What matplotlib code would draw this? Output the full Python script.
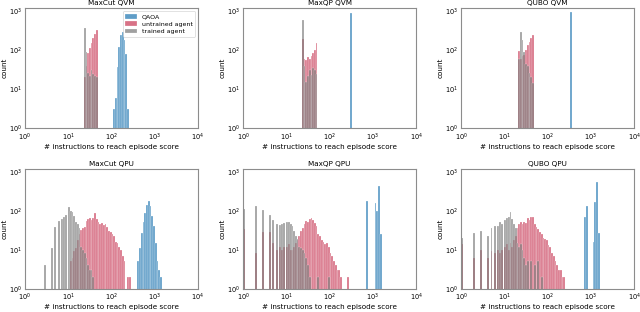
import numpy as np
import matplotlib
matplotlib.use("Agg")
import matplotlib.pyplot as plt

titles = ["MaxCut QVM", "MaxQP QVM", "QUBO QVM", "MaxCut QPU", "MaxQP QPU", "QUBO QPU"]
series_labels = ["QAOA", "untrained agent", "trained agent"]
xlabel = "# instructions to reach episode score"
ylabel = "count"

# ---- MaxCut QVM ----
maxcut_qvm_qaoa_x = [115, 126, 138, 151, 166, 182, 200, 219, 240]
maxcut_qvm_qaoa_n = [3, 6, 36, 120, 240, 295, 180, 80, 3]
maxcut_qvm_untr_x = [24, 26, 29, 32, 35, 38, 42, 46]
maxcut_qvm_untr_n = [20, 40, 83, 115, 150, 200, 260, 325]
maxcut_qvm_tr_x = [24, 26, 29, 32, 35, 38, 42, 46]
maxcut_qvm_tr_n = [365, 89, 26, 22, 30, 24, 22, 20]

# ---- MaxQP QVM ----
maxqp_qvm_qaoa_x = [305]
maxqp_qvm_qaoa_n = [900]
maxqp_qvm_untr_x = [24, 26, 29, 32, 35, 38, 42, 46, 50]
maxqp_qvm_untr_n = [195, 60, 55, 65, 60, 70, 85, 100, 155]
maxqp_qvm_tr_x = [24, 26, 29, 32, 35, 38, 42, 46, 50]
maxqp_qvm_tr_n = [580, 40, 15, 22, 30, 23, 35, 30, 25]

# ---- QUBO QVM ----
qubo_qvm_qaoa_x = [350]
qubo_qvm_qaoa_n = [930]
qubo_qvm_untr_x = [22, 24, 26, 29, 32, 35, 38, 42, 46]
qubo_qvm_untr_n = [95, 60, 70, 75, 100, 135, 165, 210, 240]
qubo_qvm_tr_x = [22, 24, 26, 29, 32, 35, 38, 42, 46]
qubo_qvm_tr_n = [60, 300, 180, 90, 45, 40, 26, 20, 14]

# ---- MaxCut QPU ----
maxcut_qpu_qaoa_x = [417, 457, 501, 550, 603, 661, 724, 794, 871, 955, 1047, 1148, 1259, 1380]
maxcut_qpu_qaoa_n = [5, 11, 27, 50, 90, 140, 175, 130, 75, 40, 15, 5, 3, 2]
maxcut_qpu_untr_x = [11, 13, 14, 15, 17, 18, 20, 22, 24, 26, 29, 32, 35, 38, 42, 46, 50, 55,
                     60, 66, 72, 79, 87, 95, 105, 115, 126, 138, 151, 166, 182, 200, 240, 263]
maxcut_qpu_untr_n = [5, 6, 9, 11, 18, 25, 32, 35, 38, 55, 62, 65, 58, 66, 90, 62, 50, 45,
                     48, 42, 45, 38, 30, 28, 26, 22, 16, 15, 12, 10, 7, 5, 2, 2]
maxcut_qpu_tr_x = [3, 4, 5, 6, 7, 8, 9, 10.4, 11, 13, 14, 15, 17, 18, 20, 22, 24, 26, 29, 32, 35, 38]
maxcut_qpu_tr_n = [4, 11, 38, 55, 60, 70, 80, 125, 100, 95, 75, 50, 45, 35, 12, 10, 8, 6, 4, 3, 3, 2]

# ---- MaxQP QPU ----
maxqp_qpu_qaoa_x = [724, 1148, 1259, 1380, 1514]
maxqp_qpu_qaoa_n = [183, 155, 100, 445, 25]
maxqp_qpu_untr_x = [1, 2, 3, 4, 5, 6, 7, 8, 9, 10.4, 11, 13, 14, 15, 17, 18, 20, 22, 24, 26, 29,
                    32, 35, 38, 42, 46, 50, 55, 60, 66, 72, 79, 87, 95, 105, 115, 126, 138, 151,
                    166, 182, 263]
maxqp_qpu_untr_n = [33, 8, 29, 28, 15, 10, 12, 10, 12, 12, 14, 10, 10, 12, 15, 18, 22, 30, 35, 45, 55,
                    52, 60, 65, 58, 48, 40, 25, 22, 18, 16, 14, 15, 12, 8, 7, 5, 4, 3,
                    3, 2, 2]
maxqp_qpu_tr_x = [1, 2, 3, 4, 5, 6, 7, 8, 9, 10.4, 11, 13, 14, 15, 17, 18, 20, 22, 24, 26, 29, 32,
                  35, 55, 95]
maxqp_qpu_tr_n = [112, 135, 103, 80, 57, 45, 43, 45, 48, 50, 52, 45, 40, 31, 22, 19, 12, 11, 10, 8, 6, 4,
                  2, 2, 2]

# ---- QUBO QPU ----
qubo_qpu_qaoa_x = [724, 794, 1148, 1259, 1380, 1514]
qubo_qpu_qaoa_n = [68, 130, 16, 165, 550, 27]
qubo_qpu_untr_x = [1, 2, 3, 4, 5, 6, 7, 8, 9, 10.4, 11, 13, 14, 15, 17, 18, 20, 22, 24, 26, 29, 32,
                   35, 38, 42, 46, 50, 55, 60, 66, 72, 79, 87, 95, 105, 115, 126, 138, 151, 166,
                   182, 200, 219, 240]
qubo_qpu_untr_n = [14, 6, 10, 6, 9, 8, 10, 8, 10, 12, 14, 10, 15, 12, 18, 22, 36, 47, 50, 45, 52, 48,
                   65, 58, 70, 68, 45, 38, 33, 28, 25, 20, 19, 18, 13, 12, 8, 7, 5, 4,
                   3, 3, 2, 2]
qubo_qpu_tr_x = [1, 2, 3, 4, 5, 6, 7, 8, 9, 10.4, 11, 13, 14, 15, 17, 18, 20, 22, 24, 26, 29, 32,
                 35, 42, 50, 60, 72]
qubo_qpu_tr_n = [20, 27, 31, 23, 37, 41, 41, 50, 45, 58, 65, 70, 95, 60, 45, 35, 15, 12, 14, 10, 6, 4,
                 5, 5, 4, 5, 2]

panels = [
    ((maxcut_qvm_qaoa_x, maxcut_qvm_qaoa_n), (maxcut_qvm_untr_x, maxcut_qvm_untr_n), (maxcut_qvm_tr_x, maxcut_qvm_tr_n)),
    ((maxqp_qvm_qaoa_x, maxqp_qvm_qaoa_n), (maxqp_qvm_untr_x, maxqp_qvm_untr_n), (maxqp_qvm_tr_x, maxqp_qvm_tr_n)),
    ((qubo_qvm_qaoa_x, qubo_qvm_qaoa_n), (qubo_qvm_untr_x, qubo_qvm_untr_n), (qubo_qvm_tr_x, qubo_qvm_tr_n)),
    ((maxcut_qpu_qaoa_x, maxcut_qpu_qaoa_n), (maxcut_qpu_untr_x, maxcut_qpu_untr_n), (maxcut_qpu_tr_x, maxcut_qpu_tr_n)),
    ((maxqp_qpu_qaoa_x, maxqp_qpu_qaoa_n), (maxqp_qpu_untr_x, maxqp_qpu_untr_n), (maxqp_qpu_tr_x, maxqp_qpu_tr_n)),
    ((qubo_qpu_qaoa_x, qubo_qpu_qaoa_n), (qubo_qpu_untr_x, qubo_qpu_untr_n), (qubo_qpu_tr_x, qubo_qpu_tr_n)),
]

colors = ["#2a7db5", "#c93c57", "#666666"]
alphas = [0.75, 0.72, 0.62]
bin_edges = np.logspace(0, 4, 101)

fig, axes = plt.subplots(2, 3, figsize=(6.4, 3.12), dpi=100)
plt.subplots_adjust(left=0.039, right=0.991, bottom=0.075, top=0.974, wspace=0.26, hspace=0.34)

for i, (ax, panel, title) in enumerate(zip(axes.flat, panels, titles)):
    for (xs, ns), col, a, lab in zip(panel, colors, alphas, series_labels):
        ax.hist(xs, bins=bin_edges, weights=ns, color=col, alpha=a,
                edgecolor="white", linewidth=0.25, label=lab)
    ax.set_xscale("log")
    ax.set_yscale("log")
    ax.set_xlim(1, 1e4)
    ax.set_ylim(1, 1200)
    ax.set_xticks([1, 10, 100, 1000, 10000])
    ax.set_yticks([1, 10, 100, 1000])
    ax.minorticks_off()
    ax.tick_params(axis="x", labelsize=4.8, length=0, pad=2.5)
    ax.tick_params(axis="y", labelsize=4.8, length=0, pad=2.0)
    for sp in ax.spines.values():
        sp.set_color("#8c8c8c")
        sp.set_linewidth(0.8)
    ax.set_title(title, fontsize=5.2, pad=2)
    ax.set_xlabel(xlabel, fontsize=5.2, labelpad=0.8)
    ax.set_ylabel(ylabel, fontsize=5.2, labelpad=1.2)
    if i == 0:
        leg = ax.legend(loc="upper right", fontsize=4.5, frameon=True, borderpad=0.4,
                        handlelength=1.8, handleheight=0.8, labelspacing=0.3)
        leg.get_frame().set_edgecolor("#cccccc")
        leg.get_frame().set_linewidth(0.5)

fig.savefig("out.png", dpi=100)
